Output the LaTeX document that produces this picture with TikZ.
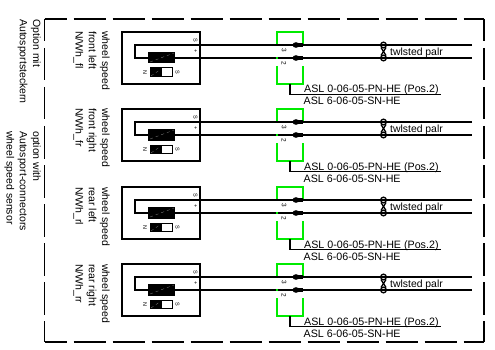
\documentclass[tikz,border=0pt]{standalone}
\usepackage{fontspec}
\setmainfont{Liberation Sans}
\tikzset{
  frameline/.style={line width=1.5pt, dash pattern=on 32.5pt off 6.5pt, dash phase=10pt},
  heavy/.style={line width=1.45pt},
  wire/.style={line width=1.35pt},
  greenbox/.style={line width=1.45pt, draw={rgb,255:red,0;green,235;blue,0}},
  lab/.style={rotate=-90, anchor=north west, inner sep=0pt, align=left, font=\fontsize{10.5}{13.3}\selectfont},
  tinytext/.style={rotate=-90, inner sep=0pt, font=\fontsize{5.5}{6}\selectfont},
  pintext/.style={rotate=-90, inner sep=0pt, font=\fontsize{6.5}{7}\selectfont},
  asl/.style={anchor=base west, inner sep=0pt, font=\fontsize{10.7}{11}\selectfont},
  pairtext/.style={anchor=base west, inner sep=0pt, font=\fontsize{10.4}{11}\selectfont},
}
\newcommand{\wheelblock}[5]{%
  \begin{scope}[yshift=-#1pt]
    \draw[heavy] (122,32) rectangle (200,84);
    \draw[wire] (472,45) -- (135,45) -- (135,58) -- (148,58);
    \draw[wire] (175,58) -- (472,58);
    \fill (147.5,52) rectangle (175,63.5);
    \draw[gray!70, line width=0.2pt, dashed] (150,62) -- (174,53);
    \node[tinytext] at (195.5,40.5) {S};
    \node[tinytext] at (195.5,51.5) {+};
    \node[tinytext] at (145,72) {N};
    \node[tinytext] at (177.5,72) {S};
    \draw[line width=1pt, fill=white] (150,68) rectangle (172,76.5);
    \fill (150,68) rectangle (162,76.5);
    \draw[gray!70, line width=0.2pt, dashed] (151,76) -- (161,69);
    \node[lab] at (110,#2) {wheel speed\\#3\\#4};
    % connector
    \draw[greenbox] (277,44) -- (277,32) -- (303,32) -- (303,44);
    \draw[greenbox] (277,57) -- (277,59);
    \draw[greenbox] (277,66) -- (277,84) -- (303,84) -- (303,66);
    \fill (296,45) ellipse (3.5pt and 2.8pt);
    \fill (296,58) ellipse (3.5pt and 2.8pt);
    \fill (296,43) rectangle (303,47);
    \fill (296,56) rectangle (303,60);
    \node[pintext] at (284,50) {3};
    \node[pintext] at (284,63) {2};
    % twist
    \draw[wire] (383.5,45) circle (2.8pt);
    \draw[wire] (383.5,58) circle (2.8pt);
    \draw[wire] (381,47.5) -- (386,55.5);
    \draw[wire] (386,47.5) -- (381,55.5);
    \node[pairtext] at (390,55.5) {twlsted palr};
    % label line
    \draw[heavy] (290,84) -- (290,94.5) -- (441,94.5);
    \node[asl] at (304,93) {ASL 0-06-05-PN-HE (Pos.2)};
    \node[asl] at (303.5,105) {ASL 6-06-05-SN-HE};
  \end{scope}}
\begin{document}
\begin{tikzpicture}[x=1pt,y=-1pt]
  \useasboundingbox (0,0) rectangle (495,350);
  \fill[white] (0,0) rectangle (495,350);
  \draw[frameline] (44.5,19) -- (484,19);
  \draw[frameline] (44.5,342) -- (484,342);
  \draw[frameline] (44.5,19) -- (44.5,342);
  \draw[frameline] (484,19) -- (484,342);
  \node[lab] (opt1) at (41,19) {Option mit\\Autosportsteckern};
  \node[lab] (opt2) at (41,131) {option with\\Autosport-connectors\\wheel speed sensor};
  \wheelblock{0}{31}{front left}{N/Wh\_fl}{}
  \wheelblock{77}{31}{front right}{N/Wh\_fr}{}
  \wheelblock{155}{32}{rear left}{N/Wh\_rl}{}
  \wheelblock{232}{32}{rear right}{N/Wh\_rr}{}
\end{tikzpicture}
\end{document}
